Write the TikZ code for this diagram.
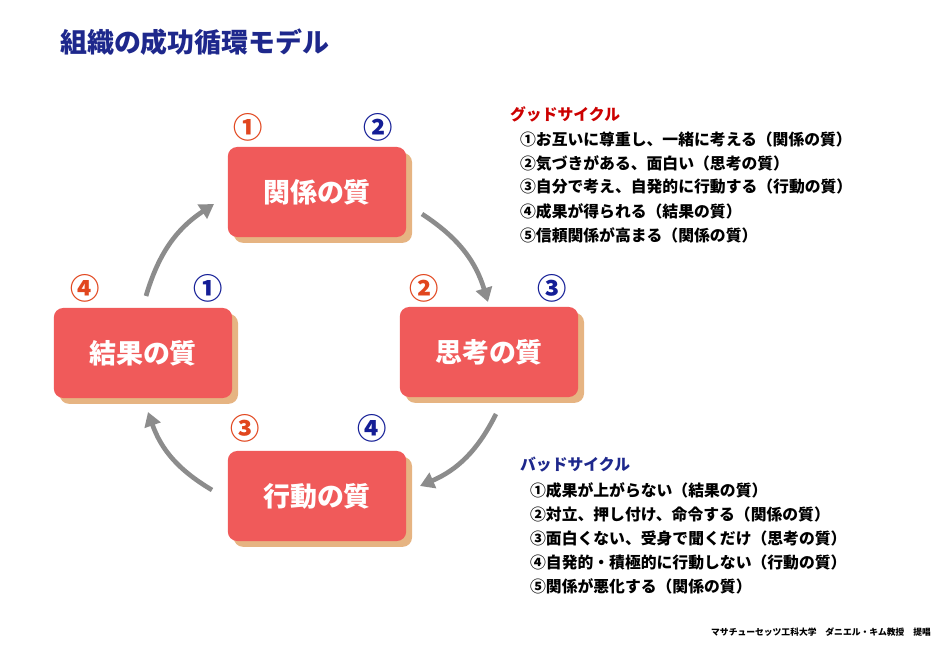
\documentclass[tikz,border=0pt]{standalone}
\usepackage{fontspec}
\setmainfont{Noto Sans CJK JP}
\usetikzlibrary{shadows,arrows.meta}
\definecolor{boxred}{RGB}{240,90,90}
\definecolor{shad}{RGB}{230,180,130}
\definecolor{navy}{RGB}{30,40,140}
\definecolor{numred}{RGB}{225,70,30}
\definecolor{numblue}{RGB}{20,30,150}
\definecolor{arr}{RGB}{140,140,140}
\begin{document}
\begin{tikzpicture}[x=0.03cm,y=-0.03cm,
 q/.style={draw=none,fill=boxred,rounded corners=8pt,minimum width=5.35cm,minimum height=2.7cm,
   font=\fontsize{23}{25}\selectfont\bfseries, text=white,
   drop shadow={shadow xshift=5pt,shadow yshift=-5pt,fill=shad,opacity=1}},
 rn/.style={text=numred,font=\fontsize{25}{26}\selectfont\bfseries},
 bn/.style={text=numblue,font=\fontsize{25}{26}\selectfont\bfseries},
 ar/.style={draw=arr,line width=4pt,-{Triangle[length=12pt,width=14pt]}},
 it/.style={anchor=west,font=\fontsize{13.5}{15}\selectfont\bfseries}]
\useasboundingbox (0,0) rectangle (951,656);
\node[anchor=west,text=navy,font=\fontsize{23}{26}\selectfont\bfseries] (title) at (56,42) {組織の成功循環モデル};
\node[q] (k) at (317,192) {関係の質};
\node[q] (s) at (489,352) {思考の質};
\node[q] (r) at (143,353) {結果の質};
\node[q] (g) at (317,496) {行動の質};
\node[rn] (n1) at (248,127) {①}; \node[bn] (n2) at (378,127) {②};
\node[rn] (n3) at (85,288) {④}; \node[bn] (n4) at (208,288) {①};
\node[rn] (n5) at (424,288) {②}; \node[bn] (n6) at (552,288) {③};
\node[rn] (n7) at (245,428) {③}; \node[bn] (n8) at (372,428) {④};
\coordinate (a1) at (422,214); \coordinate (b1) at (488,302);
\coordinate (a2) at (496,414); \coordinate (b2) at (420,486);
\coordinate (a3) at (212,490); \coordinate (b3) at (148,412);
\coordinate (a4) at (146,296); \coordinate (b4) at (214,204);
\draw[ar] (a1) to[bend left=20] (b1);
\draw[ar] (a2) to[bend left=20] (b2);
\draw[ar] (a3) to[bend left=20] (b3);
\draw[ar] (a4) to[bend left=20] (b4);
\node[anchor=west,text=red!80!black,font=\fontsize{13.5}{15}\selectfont\bfseries] (gh) at (506,114) {グッドサイクル};
\node[it] (g1) at (516,139) {①お互いに尊重し、一緒に考える（関係の質）};
\node[it] (g2) at (516,163) {②気づきがある、面白い（思考の質）};
\node[it] (g3) at (516,187) {③自分で考え、自発的に行動する（行動の質）};
\node[it] (g4) at (516,211) {④成果が得られる（結果の質）};
\node[it] (g5) at (516,235) {⑤信頼関係が高まる（関係の質）};
\node[anchor=west,text=navy,font=\fontsize{13.5}{15}\selectfont\bfseries] (bh) at (516,465) {バッドサイクル};
\node[it] (b1t) at (526,490) {①成果が上がらない（結果の質）};
\node[it] (b2t) at (526,514) {②対立、押し付け、命令する（関係の質）};
\node[it] (b3t) at (526,538) {③面白くない、受身で聞くだけ（思考の質）};
\node[it] (b4t) at (526,562) {④自発的・積極的に行動しない（行動の質）};
\node[it] (b5t) at (526,586) {⑤関係が悪化する（関係の質）};
\node[anchor=east,font=\fontsize{7.5}{8}\selectfont\bfseries] (cr) at (935,632) {マサチューセッツ工科大学　ダニエル・キム教授　提唱};
\end{tikzpicture}
\end{document}
